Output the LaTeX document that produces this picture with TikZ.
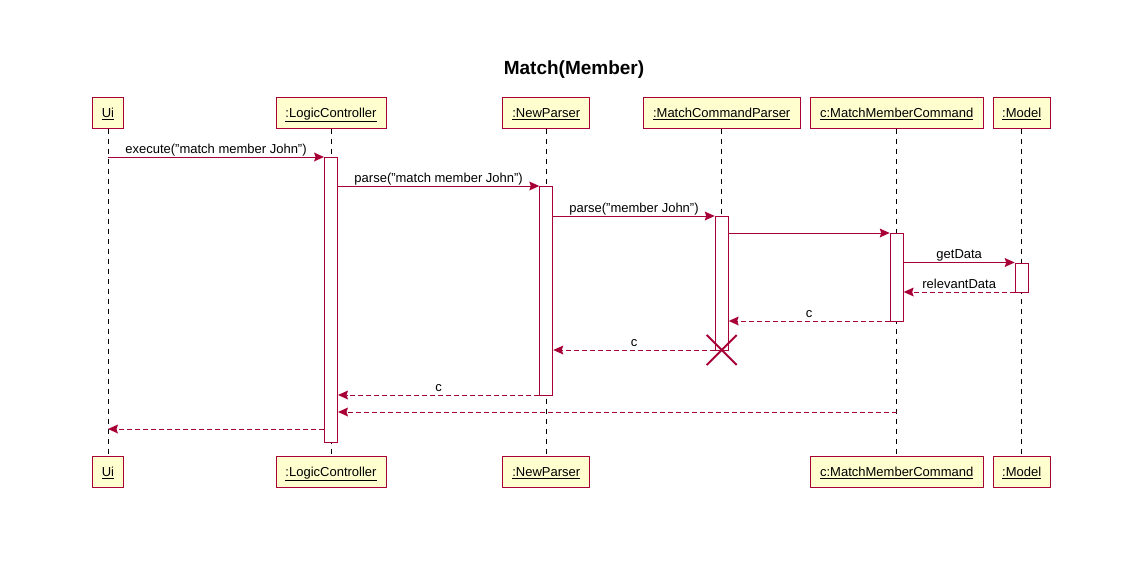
\documentclass[tikz,border=0pt]{standalone}
\usepackage{fontspec}
\setmainfont{Liberation Sans}
\usetikzlibrary{arrows.meta,calc}
\definecolor{pred}{HTML}{A80036}
\definecolor{pfill}{HTML}{FEFECE}
\tikzset{
  part/.style={draw=pred, fill=pfill, line width=1pt, inner sep=0pt,
    minimum height=31pt, text height=9.5pt, text depth=0pt,
    font=\fontsize{13}{15}\selectfont},
  lifeline/.style={black, line width=1pt, dash pattern=on 5pt off 5pt},
  actbar/.style={draw=pred, fill=white, line width=1pt, inner sep=0pt, minimum width=13pt},
  msg/.style={draw=pred, line width=1pt, -{Stealth[length=10pt,width=9pt,inset=1.5pt,line width=0pt]}},
  ret/.style={msg, dash pattern=on 5pt off 3pt},
  lbl/.style={anchor=base, inner sep=0pt, font=\fontsize{13}{15}\selectfont},
}
\begin{document}
\begin{tikzpicture}[x=1pt,y=-1pt]
\useasboundingbox (0,0) rectangle (1146,570);
% title
\node[anchor=base, inner sep=0pt, font=\fontsize{19}{22}\selectfont\bfseries] (title) at (574,74) {Match(Member)};
% participants (top)
\node[part, minimum width=30.6pt] (uiT) at (108,112.5) {\underline{Ui}};
\node[part, minimum width=110pt] (lcT) at (331,112.5) {\underline{:LogicController}};
\node[part, minimum width=87.3pt] (npT) at (546.3,112.5) {\underline{:NewParser}};
\node[part, minimum width=156.7pt] (mcpT) at (721.7,112.5) {\underline{:MatchCommandParser}};
\node[part, minimum width=173.3pt] (mmcT) at (896.7,112.5) {\underline{c:MatchMemberCommand}};
\node[part, minimum width=56.7pt] (modT) at (1021.7,112.5) {\underline{:Model}};
% participants (bottom)
\node[part, minimum width=30.6pt] (uiB) at (108,471.5) {\underline{Ui}};
\node[part, minimum width=110pt] (lcB) at (331,471.5) {\underline{:LogicController}};
\node[part, minimum width=87.3pt] (npB) at (546.3,471.5) {\underline{:NewParser}};
\node[part, minimum width=173.3pt] (mmcB) at (896.7,471.5) {\underline{c:MatchMemberCommand}};
\node[part, minimum width=56.7pt] (modB) at (1021.7,471.5) {\underline{:Model}};
\coordinate (mcpEnd) at (721.7,350);
% lifelines
\draw[lifeline] (uiT.south) -- (uiB.north);
\draw[lifeline] (lcT.south) -- (lcB.north);
\draw[lifeline] (npT.south) -- (npB.north);
\draw[lifeline] (mcpT.south) -- (mcpEnd);
\draw[lifeline] (mmcT.south) -- (mmcB.north);
\draw[lifeline] (modT.south) -- (modB.north);
% activation bars
\node[actbar, minimum height=285pt] (barLC) at (331,299.5) {};
\node[actbar, minimum height=209pt] (barNP) at (546.3,290.5) {};
\node[actbar, minimum height=134pt] (barMCP) at (721.7,283) {};
\node[actbar, minimum height=88pt] (barMMC) at (896.7,277) {};
\node[actbar, minimum height=29pt] (barMod) at (1021.7,277.5) {};
% message levels
\coordinate (y1) at (0,157);
\coordinate (y2) at (0,186);
\coordinate (y3) at (0,216);
\coordinate (y4) at (0,233);
\coordinate (y5) at (0,262.5);
\coordinate (y6) at (0,292);
\coordinate (y7) at (0,321);
\coordinate (y8) at (0,350);
\coordinate (y9) at (0,395);
\coordinate (y10) at (0,412);
\coordinate (y11) at (0,429);
% messages
\draw[msg] (uiT.south |- y1) -- (barLC.west |- y1);
\node[lbl] (l1) at ($($(uiT.south |- y1)!0.5!(barLC.west |- y1)$)+(0,-4)$) {execute("match member John")};
\draw[msg] (barLC.east |- y2) -- (barNP.west |- y2);
\node[lbl] (l2) at ($($(barLC.east |- y2)!0.5!(barNP.west |- y2)$)+(0,-4)$) {parse("match member John")};
\draw[msg] (barNP.east |- y3) -- (barMCP.west |- y3);
\node[lbl] (l3) at ($($(barNP.east |- y3)!0.5!(barMCP.west |- y3)$)+(0,-4)$) {parse("member John")};
\draw[msg] (barMCP.east |- y4) -- (barMMC.west |- y4);
\draw[msg] (barMMC.east |- y5) -- (barMod.west |- y5);
\node[lbl] (l5) at ($($(barMMC.east |- y5)!0.5!(barMod.west |- y5)$)+(0,-4)$) {getData};
\draw[ret] (barMod.west |- y6) -- (barMMC.east |- y6);
\node[lbl] (l6) at ($($(barMod.west |- y6)!0.5!(barMMC.east |- y6)$)+(0,-4)$) {relevantData};
\draw[ret] (barMMC.west |- y7) -- (barMCP.east |- y7);
\node[lbl] (l7) at ($($(barMMC.west |- y7)!0.5!(barMCP.east |- y7)$)+(0,-4)$) {c};
\draw[ret] (barMCP.west |- y8) -- (barNP.east |- y8);
\node[lbl] (l8) at ($($(barMCP.west |- y8)!0.5!(barNP.east |- y8)$)+(0,-4)$) {c};
\draw[ret] (barNP.west |- y9) -- (barLC.east |- y9);
\node[lbl] (l9) at ($($(barNP.west |- y9)!0.5!(barLC.east |- y9)$)+(0,-4)$) {c};
\draw[ret] (mmcT.south |- y10) -- (barLC.east |- y10);
\draw[ret] (barLC.west |- y11) -- (uiT.south |- y11);
% destroy
\draw[pred, line width=2pt] ($(mcpEnd)+(-15,-15)$) -- ($(mcpEnd)+(15,15)$);
\draw[pred, line width=2pt] ($(mcpEnd)+(-15,15)$) -- ($(mcpEnd)+(15,-15)$);
\end{tikzpicture}
\end{document}
